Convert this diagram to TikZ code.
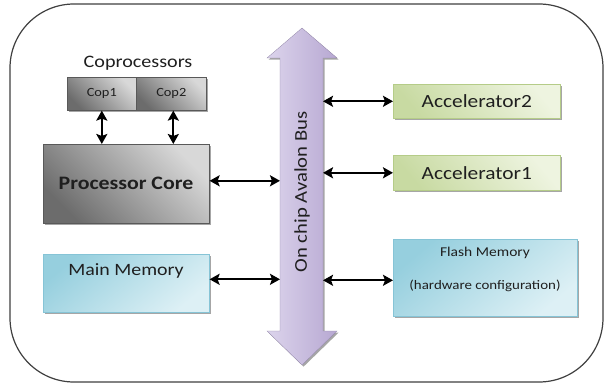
\documentclass[tikz,border=0pt]{standalone}
\usepackage{fontspec}
\setmainfont{Carlito}[FakeStretch=1.15]
\usetikzlibrary{arrows.meta,shadows}

\definecolor{txt}{HTML}{1F1F1F}
\definecolor{frame}{HTML}{404040}
\definecolor{grayL}{HTML}{D8D8D8}
\definecolor{grayD}{HTML}{6C6C6C}
\definecolor{accL}{HTML}{EEF4E0}
\definecolor{accD}{HTML}{C8DAA2}
\definecolor{accB}{HTML}{B5CC88}
\definecolor{memL}{HTML}{DDF0F5}
\definecolor{memD}{HTML}{96CFDE}
\definecolor{memB}{HTML}{86C4D6}
\definecolor{busL}{HTML}{DCD4EC}
\definecolor{busM}{HTML}{E6E0F1}
\definecolor{busR}{HTML}{B7A8D2}

\tikzset{
  softshadow/.style={drop shadow={shadow xshift=1.6pt, shadow yshift=-1.6pt, opacity=0.35, fill=black}},
  graybox/.style={draw=gray!70!black, line width=0.6pt, top color=grayL, bottom color=grayD,
    shading angle=-45, softshadow, inner sep=0pt, anchor=north west},
  accbox/.style={draw=accB, line width=0.6pt, top color=accL, bottom color=accD,
    shading angle=-50, softshadow, inner sep=0pt, anchor=north west},
  membox/.style={draw=memB, line width=0.6pt, top color=memD, bottom color=memL,
    shading angle=40, softshadow, inner sep=0pt, anchor=north west},
  lbl/.style={text=txt, inner sep=0pt},
  link/.style={line width=2.3pt, draw=black,
    {Stealth[length=10pt,width=11pt,inset=2pt]}-{Stealth[length=10pt,width=11pt,inset=2pt]}},
}

\begin{document}
\begin{tikzpicture}[x=1pt,y=-1pt]
\useasboundingbox (0,0) rectangle (605,385);
\fill[white] (0,0) rectangle (605,385);

% enclosing chip outline
\draw[frame, line width=1.2pt, rounded corners=64pt] (10,4) rectangle (603,382);

% on-chip bus drawn as a double-headed block arrow
\shade[left color=busL, middle color=busM, right color=busR, softshadow, draw=busR!80!black, line width=0.3pt]
  (302,28) -- (337,58) -- (323,58) -- (323,331) -- (337,331) -- (302,365)
  -- (267,331) -- (280,331) -- (280,58) -- (267,58) -- cycle;
\coordinate (busL) at (280,0);
\coordinate (busR) at (323,0);
\node[lbl, rotate=90, font=\fontsize{18}{20}\selectfont] (bustxt) at (302,192) {On chip Avalon Bus};

% coprocessors and core
\node[lbl, font=\fontsize{17.5}{20}\selectfont] (coptitle) at (138,63) {Coprocessors};
\node[graybox, minimum width=69pt, minimum height=33pt] (cop1) at (67,77) {};
\node[graybox, minimum width=70pt, minimum height=33pt] (cop2) at (136,77) {};
\node[lbl, font=\fontsize{12.5}{14}\selectfont] (cop1t) at (cop1.center) {Cop1};
\node[lbl, font=\fontsize{12.5}{14}\selectfont] (cop2t) at (cop2.center) {Cop2};
\node[graybox, minimum width=166pt, minimum height=79pt] (pc) at (43,144) {};
\node[lbl, font=\bfseries\fontsize{19}{22}\selectfont] (pct) at (126,183) {Processor Core};

% memories
\node[membox, minimum width=166pt, minimum height=58pt] (mm) at (43,254) {};
\node[lbl, font=\fontsize{17.3}{20}\selectfont] (mmt) at (126,271) {Main Memory};
\node[membox, minimum width=184pt, minimum height=77pt] (fl) at (393,239) {};
\node[lbl, font=\fontsize{13.5}{16}\selectfont] (flt1) at (485,253) {Flash Memory};
\node[lbl, font=\fontsize{13}{16}\selectfont] (flt2) at (485,286) {(hardware configuration)};

% accelerators
\node[accbox, minimum width=167pt, minimum height=34pt] (acc2) at (393,84) {};
\node[lbl, font=\fontsize{18.6}{21}\selectfont] (acc2t) at (acc2.center) {Accelerator2};
\node[accbox, minimum width=167pt, minimum height=35pt] (acc1) at (393,155) {};
\node[lbl, font=\fontsize{18.6}{21}\selectfont] (acc1t) at (acc1.center) {Accelerator1};

% connections
\draw[link] (cop1.south) -- (cop1.south |- pc.north);
\draw[link] ([xshift=2pt]cop2.south) -- ([xshift=2pt]cop2.south |- pc.north);
\draw[link] ([yshift=3pt]pc.east) -- ([yshift=3pt]pc.east -| busL);
\draw[link] ([yshift=4pt]mm.east) -- ([yshift=4pt]mm.east -| busL);
\draw[link] (busR |- acc2.west) -- (acc2.west);
\draw[link] (busR |- acc1.west) -- (acc1.west);
\draw[link] ([yshift=-2.5pt]busR |- fl.west) -- ([yshift=-2.5pt]fl.west);
\end{tikzpicture}
\end{document}
